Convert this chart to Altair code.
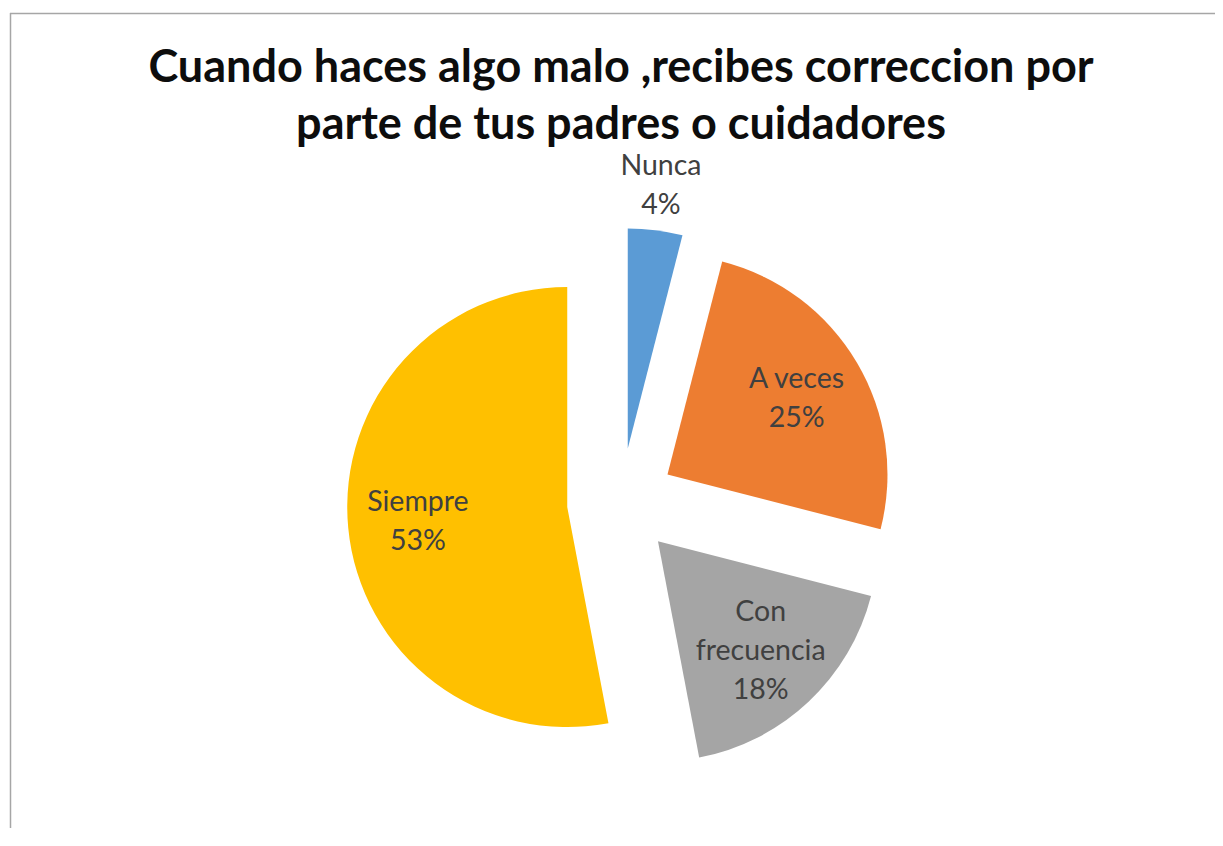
import altair as alt
import pandas as pd

# ---- data ----
CATEGORIES = ["Nunca", "A veces", "Con frecuencia", "Siempre"]
PERCENTS = [4, 25, 18, 53]
LABELS = ["Nunca", "A veces", "Con\nfrecuencia", "Siempre"]
COLORS = ["#5B9BD5", "#ED7D31", "#A5A5A5", "#FFC000"]
TITLE = ["Cuando haces algo malo ,recibes correccion por",
         "parte  de tus padres o cuidadores"]

# ---- layout ----
W, H = 1205, 815
CX, CY = 611, 489          # pie centre in plot coordinates
R = 220                    # pie radius
EXPLODE = 54               # explosion distance of each slice
LABEL_R_IN = 150
LABEL_R_OUT = 265
LABEL_LH = 39
FONT = "Lato"

df = pd.DataFrame({
    "cat": CATEGORIES,
    "pct": PERCENTS,
    "order": list(range(len(CATEGORIES))),
    "label": LABELS,
})

base = (
    alt.Chart(df)
    .transform_window(cum="sum(pct)", sort=[alt.SortField("order")], frame=[None, 0])
    .transform_calculate(t0="(datum.cum - datum.pct) / 100 * 2 * PI")
    .transform_calculate(t1="datum.cum / 100 * 2 * PI")
    .transform_calculate(mid="(datum.t0 + datum.t1) / 2")
    .transform_calculate(px=f"{CX} + {EXPLODE} * sin(datum.mid)")
    .transform_calculate(py=f"{CY} - {EXPLODE} * cos(datum.mid)")
    .transform_calculate(lr=f"datum.pct < 10 ? {LABEL_R_OUT} : {LABEL_R_IN}")
    .transform_calculate(txt="datum.label + '\\n' + datum.pct + '%'")
    .transform_calculate(nl="length(split(datum.txt, '\\n'))")
    .transform_calculate(lx="datum.px + datum.lr * sin(datum.mid)")
    .transform_calculate(
        ly=f"datum.py - datum.lr * cos(datum.mid) - (datum.nl - 1) * {LABEL_LH} / 2")
)

arcs = base.mark_arc(outerRadius=R).encode(
    theta=alt.Theta("t0:Q", scale=None),
    theta2="t1:Q",
    x=alt.X("px:Q", scale=None),
    y=alt.Y("py:Q", scale=None),
    color=alt.Color("cat:N", scale=alt.Scale(domain=CATEGORIES, range=COLORS), legend=None),
)

labels = base.mark_text(
    font=FONT, fontSize=28.5, color="#404040", align="center", baseline="middle",
    lineBreak="\n", lineHeight=LABEL_LH,
).encode(
    x=alt.X("lx:Q", scale=None),
    y=alt.Y("ly:Q", scale=None),
    text="txt:N",
)

title = alt.Chart(pd.DataFrame({"t": ["\n".join(TITLE)]})).mark_text(
    font=FONT, fontSize=45, fontWeight="bold", color="#0d0d0d", align="center",
    baseline="middle", lineBreak="\n", lineHeight=57,
).encode(text="t:N", x=alt.value(CX), y=alt.value(55))

frame_df = pd.DataFrame({"a": [0]})
top_rule = alt.Chart(frame_df).mark_rule(color="#A6A6A6", strokeWidth=1.5).encode(
    x=alt.value(0), x2=alt.value(W), y=alt.value(0.5))
left_rule = alt.Chart(frame_df).mark_rule(color="#A6A6A6", strokeWidth=1.5).encode(
    x=alt.value(0.5), y=alt.value(0), y2=alt.value(H))

chart = alt.layer(top_rule, left_rule, arcs, labels, title).properties(
    width=W, height=H,
    padding={"left": 2, "top": 5, "right": 0, "bottom": 0},
    autosize=alt.AutoSizeParams(type="none"),
).configure_view(stroke=None)

chart.save("out.html", embed_options={"renderer": "svg", "actions": False})
